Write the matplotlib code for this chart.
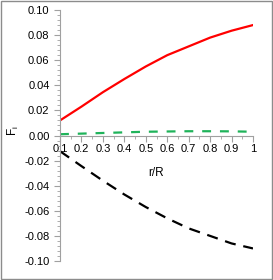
import matplotlib.pyplot as plt
import matplotlib.ticker as mticker
from matplotlib.patches import Rectangle

r_R = [0.1, 0.2, 0.3, 0.4, 0.5, 0.6, 0.7, 0.8, 0.9, 1.0]
f_red = [0.012, 0.023, 0.0345, 0.045, 0.055, 0.064, 0.071, 0.078, 0.0835, 0.088]
f_green = [0.001, 0.0015, 0.002, 0.0025, 0.003, 0.0032, 0.0034, 0.0034, 0.0033, 0.003]
f_black = [-0.0125, -0.0244, -0.036, -0.047, -0.057, -0.066, -0.074, -0.080, -0.086, -0.090]
xticks = [0.1, 0.2, 0.3, 0.4, 0.5, 0.6, 0.7, 0.8, 0.9, 1.0]
xlabels = ["0.1", "0.2", "0.3", "0.4", "0.5", "0.6", "0.7", "0.8", "0.9", "1"]

plt.rcParams['font.family'] = ['Liberation Sans', 'DejaVu Sans']

fig = plt.figure(figsize=(2.73, 2.80), dpi=100)
fig.patches.append(Rectangle((0.004, 0.004), 0.992, 0.992, transform=fig.transFigure,
                             fill=False, edgecolor='#8c8c8c', linewidth=1.0))
ax = fig.add_axes([60 / 273, 1 - 261 / 280, 193 / 273, 251 / 280])

ax.plot(r_R, f_red, color='#ff0000', linewidth=1.6)
ax.plot(r_R, f_green, color='#1fb35a', linewidth=1.6, dashes=(4, 4))
ax.plot(r_R, f_black, color='black', linewidth=1.6, dashes=(5, 3.5))

ax.set_xlim(0.1, 1.0)
ax.set_ylim(-0.1, 0.1)
ax.spines['top'].set_visible(False)
ax.spines['right'].set_visible(False)
ax.spines['bottom'].set_position(('data', 0))
ax.spines['left'].set_color('#a0a0a0')
ax.spines['bottom'].set_color('#a0a0a0')

ax.set_xticks(xticks)
ax.set_xticklabels(xlabels)
ax.xaxis.set_minor_locator(mticker.MultipleLocator(0.05))
ax.set_yticks([-0.1, -0.08, -0.06, -0.04, -0.02, 0.0, 0.02, 0.04, 0.06, 0.08, 0.1])
ax.yaxis.set_major_formatter(mticker.FormatStrFormatter('%.2f'))
ax.yaxis.set_minor_locator(mticker.MultipleLocator(0.004))
ax.tick_params(axis='both', which='both', direction='out', color='#a0a0a0', labelsize=8)
ax.tick_params(axis='both', which='major', length=4)
ax.tick_params(axis='both', which='minor', length=2.5)
ax.tick_params(axis='x', pad=2)

# x label sits inside the plot, below the zero axis
ax.text(0.5, (261 - 173) / 251, 'r/R', transform=ax.transAxes,
        ha='center', va='center', fontsize=8.5)
ax.set_ylabel('F$_\\mathregular{i}$', fontsize=8.5)
ax.yaxis.set_label_coords(-0.2, 0.52)

fig.savefig('out.png', dpi=100)
